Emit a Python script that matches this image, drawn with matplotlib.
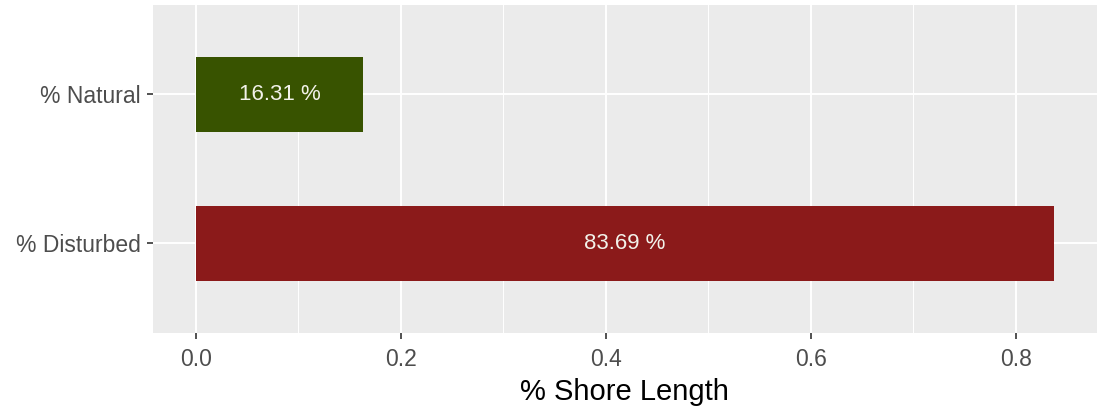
"""Horizontal bar chart of shoreline condition (share of total shore length)."""

import matplotlib

matplotlib.use("Agg")
import matplotlib.pyplot as plt
from matplotlib.ticker import MultipleLocator

categories = ["% Disturbed", "% Natural"]
shares = [0.8369, 0.1631]
bar_labels = ["83.69 %", "16.31 %"]
bar_colors = ["#8B1A1A", "#385300"]
x_ticks = [0.0, 0.2, 0.4, 0.6, 0.8]

plt.rcParams["font.family"] = ["Liberation Sans", "DejaVu Sans"]

fig = plt.figure(figsize=(11, 4.13), dpi=100)
ax = fig.add_axes([0.139, 0.194, 0.858, 0.794])
ax.set_facecolor("#EBEBEB")

ypos = list(range(1, len(categories) + 1))
ax.barh(ypos, shares, height=0.5, color=bar_colors, zorder=3)
for y, v, lab in zip(ypos, shares, bar_labels):
    ax.text(v / 2, y, lab, ha="center", va="center", color="#F2F2EA",
            fontsize=16, zorder=4)

# ggplot-style expansion: 5% on the continuous axis, 0.6 on the discrete one
hi = max(shares)
ax.set_xlim(-0.05 * hi, 1.05 * hi)
ax.set_ylim(0.4, len(categories) + 0.6)

ax.set_xticks(x_ticks)
ax.set_xticklabels([f"{t:.1f}" for t in x_ticks])
ax.xaxis.set_minor_locator(MultipleLocator(0.1))
ax.set_yticks(ypos)
ax.set_yticklabels(categories)

ax.grid(True, which="major", color="white", linewidth=1.4, zorder=1)
ax.grid(True, which="minor", axis="x", color="white", linewidth=0.7, zorder=1)
ax.set_axisbelow(True)
for s in ax.spines.values():
    s.set_visible(False)

ax.tick_params(axis="both", which="major", length=4, width=1.2, color="#333333",
               labelcolor="#4D4D4D", labelsize=16.5, pad=5)
ax.tick_params(axis="x", which="major", pad=7)
ax.tick_params(axis="both", which="minor", length=0)
ax.set_xlabel("% Shore Length", fontsize=21, color="black", labelpad=5)

fig.savefig("out.png", dpi=100)
